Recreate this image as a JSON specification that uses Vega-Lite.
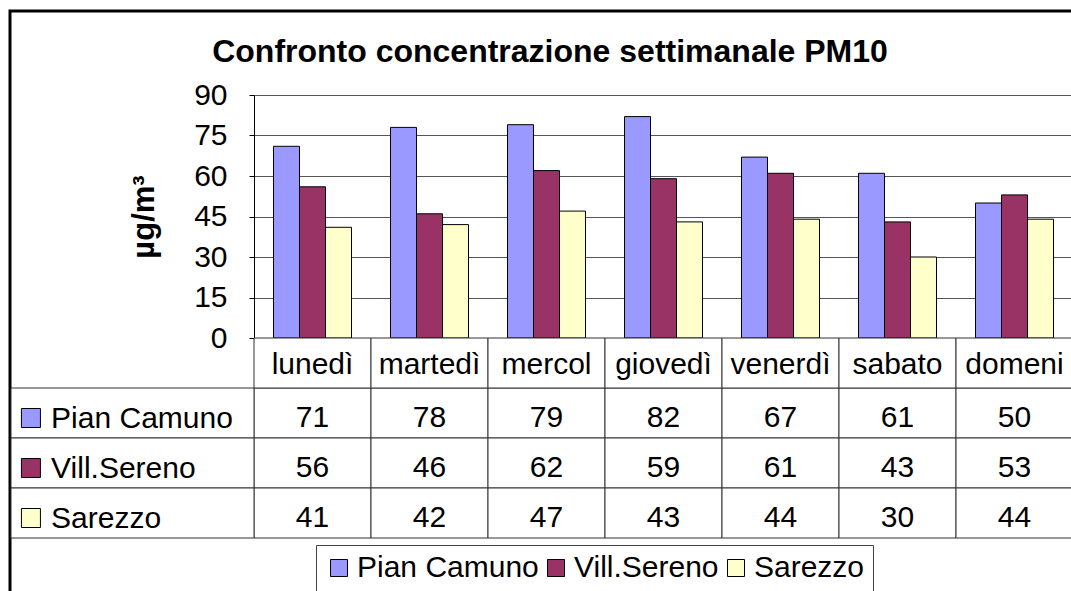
{
  "$schema": "https://vega.github.io/schema/vega-lite/v6.json",
  "width": 1080,
  "height": 600,
  "autosize": {"type": "none"},
  "padding": {"left": 10, "top": 11, "right": 0, "bottom": 0},
  "background": "white",
  "config": {
    "font": "Liberation Sans",
    "view": {"stroke": "#000", "strokeWidth": 3, "fill": "white"}
  },
  "title": {
    "text": "Confronto concentrazione settimanale PM10",
    "fontSize": 32,
    "fontWeight": "bold",
    "anchor": "middle",
    "frame": "group",
    "offset": -83,
    "baseline": "alphabetic",
    "color": "#000"
  },
  "datasets": {
    "d": [
      {"day": "lunedì", "series": "Pian Camuno", "value": 71},
      {"day": "lunedì", "series": "Vill.Sereno", "value": 56},
      {"day": "lunedì", "series": "Sarezzo", "value": 41},
      {"day": "martedì", "series": "Pian Camuno", "value": 78},
      {"day": "martedì", "series": "Vill.Sereno", "value": 46},
      {"day": "martedì", "series": "Sarezzo", "value": 42},
      {"day": "mercol", "series": "Pian Camuno", "value": 79},
      {"day": "mercol", "series": "Vill.Sereno", "value": 62},
      {"day": "mercol", "series": "Sarezzo", "value": 47},
      {"day": "giovedì", "series": "Pian Camuno", "value": 82},
      {"day": "giovedì", "series": "Vill.Sereno", "value": 59},
      {"day": "giovedì", "series": "Sarezzo", "value": 43},
      {"day": "venerdì", "series": "Pian Camuno", "value": 67},
      {"day": "venerdì", "series": "Vill.Sereno", "value": 61},
      {"day": "venerdì", "series": "Sarezzo", "value": 44},
      {"day": "sabato", "series": "Pian Camuno", "value": 61},
      {"day": "sabato", "series": "Vill.Sereno", "value": 43},
      {"day": "sabato", "series": "Sarezzo", "value": 30},
      {"day": "domeni", "series": "Pian Camuno", "value": 50},
      {"day": "domeni", "series": "Vill.Sereno", "value": 53},
      {"day": "domeni", "series": "Sarezzo", "value": 44}
    ]
  },
  "data": {"name": "d"},
  "layer": [
    {
      "mark": {"type": "bar", "stroke": "#000", "strokeWidth": 1},
      "encoding": {
        "x": {
          "field": "day", "type": "nominal",
          "scale": {"domain": ["lunedì", "martedì", "mercol", "giovedì", "venerdì", "sabato", "domeni"], "range": [244, 1063], "paddingInner": 0, "paddingOuter": 0},
          "axis": null
        },
        "xOffset": {
          "field": "series", "type": "nominal",
          "scale": {"domain": ["Pian Camuno", "Vill.Sereno", "Sarezzo"], "paddingInner": 0, "paddingOuter": 0.75}
        },
        "y": {
          "field": "value", "type": "quantitative",
          "scale": {"domain": [0, 90], "range": [327, 84], "nice": false, "zero": true},
          "axis": {
            "values": [0, 15, 30, 45, 60, 75, 90],
            "offset": -244,
            "title": "µg/m³",
            "titleFontSize": 31,
            "titleFontWeight": "bold",
            "titleColor": "#000",
            "titlePadding": 33,
            "labelFontSize": 30,
            "labelColor": "#000",
            "labelPadding": 22,
            "labelOverlap": false,
            "tickSize": 5,
            "tickColor": "#000",
            "domainColor": "#000",
            "grid": true,
            "gridColor": "#555"
          }
        },
        "color": {
          "field": "series", "type": "nominal",
          "scale": {"domain": ["Pian Camuno", "Vill.Sereno", "Sarezzo"], "range": ["#9999FF", "#993366", "#FFFFCC"]},
          "legend": {
            "orient": "none",
            "legendX": 306,
            "legendY": 534,
            "direction": "horizontal",
            "title": null,
            "symbolType": "square",
            "symbolSize": 289,
            "symbolStrokeColor": "#000",
            "symbolStrokeWidth": 1,
            "symbolOpacity": 1,
            "labelFontSize": 30,
            "labelColor": "#000",
            "labelLimit": 400,
            "labelOffset": 3,
            "columnPadding": 2,
            "padding": 8,
            "strokeColor": "#444",
            "fillColor": "white"
          }
        }
      }
    },
    {
      "layer": [
        {
          "mark": {"type": "rect", "fill": "white", "stroke": "#333", "strokeWidth": 1},
          "encoding": {
            "x": {"field": "day", "type": "nominal", "scale": {"domain": ["lunedì", "martedì", "mercol", "giovedì", "venerdì", "sabato", "domeni"], "range": [244, 1063], "paddingInner": 0, "paddingOuter": 0}, "axis": null},
            "y": {"field": "series", "type": "nominal", "scale": {"domain": ["hdr", "Pian Camuno", "Vill.Sereno", "Sarezzo"], "range": [327, 527], "paddingInner": 0, "paddingOuter": 0}, "axis": null}
          }
        },
        {
          "transform": [{"filter": "datum.series === 'Pian Camuno'"}],
          "mark": {"type": "rect", "fill": "white", "stroke": "#333", "strokeWidth": 1},
          "encoding": {
            "x": {"field": "day", "type": "nominal", "axis": null},
            "y": {"datum": "hdr", "type": "nominal", "axis": null}
          }
        },
        {
          "mark": {"type": "text", "fontSize": 30, "baseline": "alphabetic", "dy": 14, "color": "#000"},
          "encoding": {
            "x": {"field": "day", "type": "nominal", "axis": null},
            "y": {"field": "series", "type": "nominal", "axis": null},
            "text": {"field": "value", "type": "quantitative"}
          }
        },
        {
          "transform": [{"filter": "datum.series === 'Pian Camuno'"}],
          "mark": {"type": "text", "fontSize": 30, "baseline": "alphabetic", "dy": 11, "color": "#000"},
          "encoding": {
            "x": {"field": "day", "type": "nominal", "axis": null},
            "y": {"datum": "hdr", "type": "nominal", "axis": null},
            "text": {"field": "day", "type": "nominal"}
          }
        }
      ]
    },
    {
      "transform": [{"filter": "datum.day === 'lunedì'"}],
      "layer": [
        {
          "mark": {"type": "rect", "fill": "white", "stroke": "#333", "strokeWidth": 1},
          "encoding": {
            "x": {"datum": "L", "type": "nominal", "scale": {"domain": ["L"], "range": [1, 244], "paddingInner": 0, "paddingOuter": 0}, "axis": null},
            "y": {"field": "series", "type": "nominal", "scale": {"domain": ["hdr", "Pian Camuno", "Vill.Sereno", "Sarezzo"], "range": [327, 527], "paddingInner": 0, "paddingOuter": 0}, "axis": null}
          }
        },
        {
          "mark": {"type": "point", "shape": "square", "filled": true, "size": 361, "stroke": "#000", "strokeWidth": 1, "opacity": 1},
          "encoding": {
            "x": {"datum": "L", "type": "nominal", "bandPosition": 0.082, "axis": null},
            "y": {"field": "series", "type": "nominal", "bandPosition": 0.6, "axis": null},
            "color": {"field": "series", "type": "nominal"}
          }
        },
        {
          "mark": {"type": "text", "align": "left", "fontSize": 30, "baseline": "alphabetic", "dy": 15, "color": "#000"},
          "encoding": {
            "x": {"datum": "L", "type": "nominal", "bandPosition": 0.165, "axis": null},
            "y": {"field": "series", "type": "nominal", "axis": null},
            "text": {"field": "series", "type": "nominal"}
          }
        }
      ]
    }
  ],
  "resolve": {"scale": {"x": "independent", "y": "independent"}}
}
